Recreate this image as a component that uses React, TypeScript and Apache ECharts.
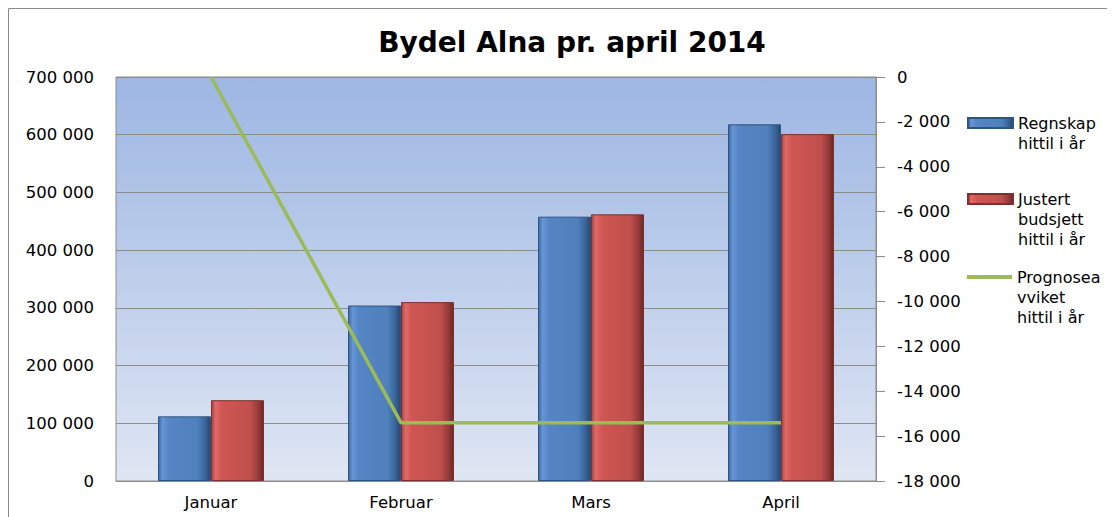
import React, { useEffect, useRef } from "react";
import * as echarts from "echarts";

const categories = ["Januar", "Februar", "Mars", "April"];
const regnskap = [112000, 304000, 458000, 618000];
const budsjett = [140000, 310000, 462000, 601000];
const prognose = [0, -15400, -15400, -15400];
const leftTicks = { min: 0, max: 700000, interval: 100000 };
const rightTicks = { min: -18000, max: 0, interval: 2000 };

const fmt = (v: number) =>
  (v < 0 ? "-" : "") + Math.abs(v).toString().replace(/\B(?=(\d{3})+(?!\d))/g, " ");

const FONT = "DejaVu Sans";
const LH = 20;

export default function App() {
  const ref = useRef<HTMLDivElement>(null);
  useEffect(() => {
    const chart = echarts.init(ref.current!, null, { renderer: "svg" });
    const grad = (stops: [number, string][]) =>
      new echarts.graphic.LinearGradient(0, 0, 1, 0, stops.map(([offset, color]) => ({ offset, color })));
    const blue = grad([
      [0, "#3d6aa3"],
      [0.08, "#6796d6"],
      [0.2, "#5585c4"],
      [0.75, "#4f81bd"],
      [0.9, "#3a6499"],
      [1, "#27466e"],
    ]);
    const red = grad([
      [0, "#a84240"],
      [0.08, "#e06a66"],
      [0.2, "#cf5652"],
      [0.75, "#c0504d"],
      [0.9, "#953b39"],
      [1, "#6a2826"],
    ]);
    const legendText = {
      fontFamily: FONT,
      fontSize: 16,
      color: "#000",
      lineHeight: LH,
    };
    const shiftDown = (name: string) => {
      const n = name.split("\n").length;
      return "\n".repeat(n - 1) + name;
    };
    const legendBase = {
      orient: "vertical",
      left: 959,
      padding: 0,
      itemWidth: 45,
      itemHeight: 10,
      itemGap: 0,
      selectedMode: false,
      textStyle: legendText,
      formatter: shiftDown,
    };
    chart.setOption({
      animation: false,
      backgroundColor: "#fff",
      title: {
        text: "Bydel Alna pr. april 2014",
        left: 559,
        textAlign: "center",
        top: 15,
        textStyle: { fontFamily: FONT, fontWeight: "bold", fontSize: 28, color: "#000" },
      },
      graphic: [
        {
          type: "rect",
          shape: { x: 0.5, y: 0.5, width: 1106, height: 520 },
          style: { fill: "none", stroke: "#8a8a8a", lineWidth: 1 },
          silent: true,
        },
      ],
      legend: [
        {
          ...legendBase,
          top: 115 - 1.5 * LH,
          data: [{ name: "Regnskap\nhittil i år", icon: "rect" }],
        },
        {
          ...legendBase,
          top: 191 - 2.5 * LH,
          data: [{ name: "Justert\nbudsjett\nhittil i år", icon: "rect" }],
        },
        {
          ...legendBase,
          top: 269 - 2.5 * LH,
          itemHeight: 4,
          data: [{ name: "Prognosea\nvviket\nhittil i år", icon: "rect" }],
        },
      ],
      grid: {
        left: 108,
        right: 239,
        top: 69,
        bottom: 36,
        show: true,
        borderColor: "#8c8c8c",
        borderWidth: 1,
        backgroundColor: new echarts.graphic.LinearGradient(0, 0, 0, 1, [
          { offset: 0, color: "#9db6e3" },
          { offset: 1, color: "#dfe6f3" },
        ]),
      },
      xAxis: {
        type: "category",
        data: categories,
        axisTick: { show: false },
        axisLine: { lineStyle: { color: "#8c8c8c" } },
        axisLabel: { fontFamily: FONT, fontSize: 16.5, color: "#000", margin: 13 },
      },
      yAxis: [
        {
          type: "value",
          ...leftTicks,
          axisLine: { show: false },
          axisTick: { show: false },
          splitLine: { lineStyle: { color: "#8c8c8c", width: 1 } },
          axisLabel: { fontFamily: FONT, fontSize: 16.5, color: "#000", margin: 22, formatter: fmt },
        },
        {
          type: "value",
          ...rightTicks,
          position: "right",
          axisLine: { show: true, lineStyle: { color: "#8c8c8c" } },
          axisTick: { show: true, length: 9, lineStyle: { color: "#8c8c8c" } },
          splitLine: { show: false },
          axisLabel: { fontFamily: FONT, fontSize: 16.5, color: "#000", margin: 21, formatter: fmt },
        },
      ],
      series: [
        {
          name: "Regnskap\nhittil i år",
          type: "bar",
          data: regnskap,
          barWidth: 53,
          barGap: "0%",
          itemStyle: { color: blue, borderColor: "#2f5484", borderWidth: 1 },
        },
        {
          name: "Justert\nbudsjett\nhittil i år",
          type: "bar",
          data: budsjett,
          barWidth: 53,
          barGap: "0%",
          itemStyle: { color: red, borderColor: "#7d302e", borderWidth: 1 },
        },
        {
          name: "Prognosea\nvviket\nhittil i år",
          type: "line",
          yAxisIndex: 1,
          data: prognose,
          symbol: "none",
          lineStyle: { color: "#9bbb59", width: 3.5 },
          itemStyle: { color: "#9bbb59" },
        },
      ],
    });
    return () => chart.dispose();
  }, []);
  return <div ref={ref} style={{ width: 1107, height: 509 }} />;
}
